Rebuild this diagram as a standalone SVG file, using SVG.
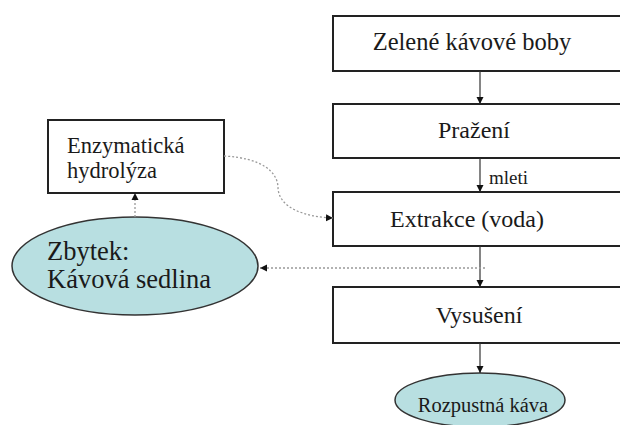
<svg xmlns="http://www.w3.org/2000/svg" width="620" height="425" viewBox="0 0 620 425">
<defs>
<style>
.box{fill:#fff;stroke:#222;stroke-width:2}
.ell{fill:#b8dfe1;stroke:#333;stroke-width:1.5}
.t{font-family:"Liberation Serif","Times New Roman",serif;fill:#1a1a1a}
.solid{stroke:#333;stroke-width:1.2;fill:none}
.dot{stroke:#999;stroke-width:1.3;stroke-dasharray:2 2;fill:none}
</style>
<marker id="ah" markerWidth="8" markerHeight="8" refX="7" refY="4" orient="auto" markerUnits="userSpaceOnUse">
<path d="M0,0.5 L7,4 L0,7.5 Z" fill="#111"/>
</marker>
</defs>
<rect width="620" height="425" fill="#fff"/>
<g id="n1"><rect class="box" x="333" y="16" width="300" height="55"/><text class="t" x="472" y="50" font-size="24.5" text-anchor="middle">Zelené kávové boby</text></g>
<g id="n2"><rect class="box" x="333" y="104" width="300" height="54"/><text class="t" x="474" y="138" font-size="24" text-anchor="middle">Pražení</text></g>
<g id="n3"><rect class="box" x="333" y="192" width="300" height="54"/><text class="t" x="467" y="227" font-size="24" text-anchor="middle">Extrakce (voda)</text></g>
<g id="n4"><rect class="box" x="333" y="287" width="300" height="56"/><text class="t" x="479" y="323" font-size="24" text-anchor="middle">Vysušení</text></g>
<g id="n5"><ellipse class="ell" cx="480" cy="400" rx="85" ry="27"/><text class="t" x="483" y="412" font-size="20.5" text-anchor="middle">Rozpustná káva</text></g>
<g id="n6"><rect class="box" x="48" y="120" width="176" height="73"/><text class="t" x="67" y="153" font-size="22.5">Enzymatická</text><text class="t" x="67" y="178" font-size="22.5">hydrolýza</text></g>
<g id="n7"><ellipse class="ell" cx="135" cy="266" rx="123" ry="49"/><text class="t" x="47" y="260" font-size="26.5">Zbytek:</text><text class="t" x="47" y="288" font-size="26.5">Kávová sedlina</text></g>
<g id="connectors">
<line class="solid" x1="480" y1="71" x2="480" y2="104" marker-end="url(#ah)"/>
<line class="solid" x1="480" y1="158" x2="480" y2="192" marker-end="url(#ah)"/>
<text class="t" x="489" y="184" font-size="19">mleti</text>
<line class="solid" x1="480" y1="246" x2="480" y2="287" marker-end="url(#ah)"/>
<line class="solid" x1="480" y1="343" x2="480" y2="373" marker-end="url(#ah)"/>
<polyline class="dot" points="485,268 260,268" marker-end="url(#ah)"/>
<line class="dot" x1="135" y1="217" x2="135" y2="193" marker-end="url(#ah)"/>
<path class="dot" d="M224,156 C262,158 278,172 278,188 C279,208 305,217 333,218" marker-end="url(#ah)"/>
</g>
</svg>
